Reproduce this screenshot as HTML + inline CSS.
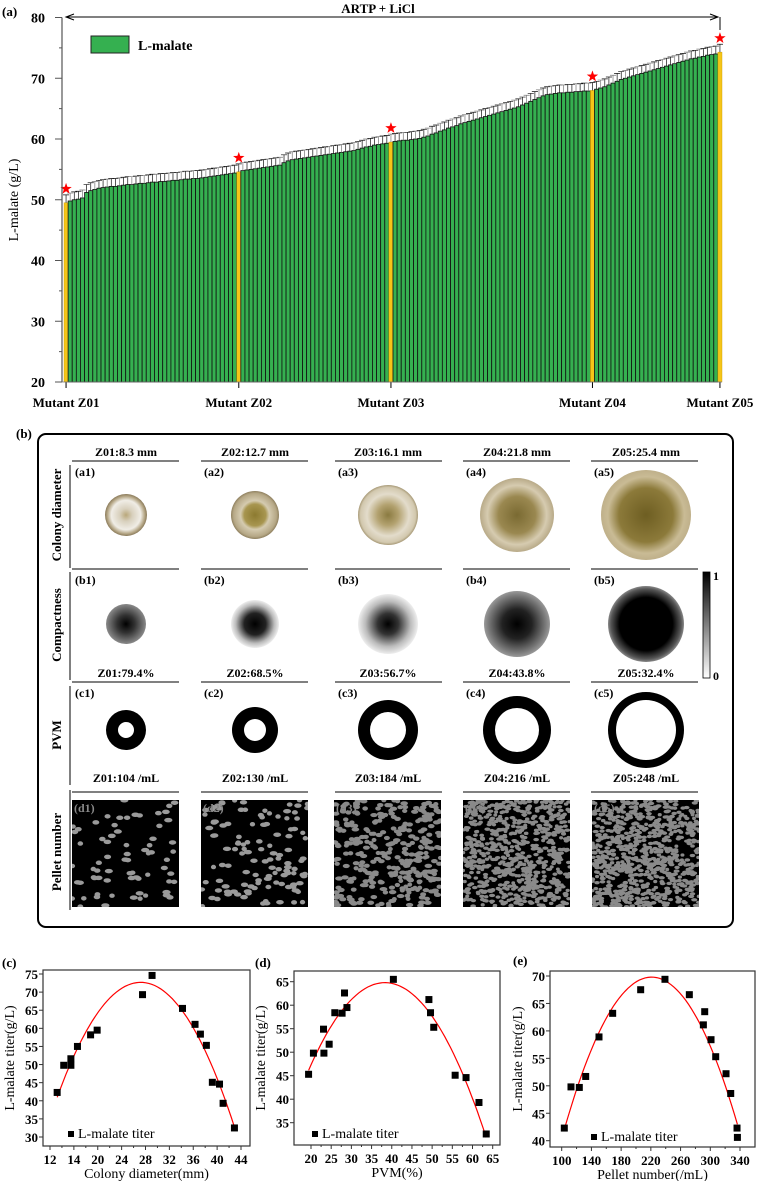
<!DOCTYPE html>
<html><head><meta charset="utf-8">
<style>
html,body{margin:0;padding:0;background:#fff;}
svg{display:block;}
text{font-family:"Liberation Serif",serif;}
.b{font-weight:bold;}
</style></head>
<body>
<svg id="fig" width="757" height="1181" viewBox="0 0 757 1181" xmlns="http://www.w3.org/2000/svg">
<defs>
  <radialGradient id="col1"><stop offset="0" stop-color="#b9a77a"/><stop offset="0.3" stop-color="#d8d0bd"/><stop offset="0.7" stop-color="#f0ede6"/><stop offset="0.88" stop-color="#b8aa8a"/><stop offset="1" stop-color="#8a7a5a"/></radialGradient>
  <radialGradient id="col2"><stop offset="0" stop-color="#8c7a30"/><stop offset="0.45" stop-color="#a89650"/><stop offset="0.6" stop-color="#d5cbb0"/><stop offset="0.9" stop-color="#b5a785"/><stop offset="1" stop-color="#8e7f5e"/></radialGradient>
  <radialGradient id="col3"><stop offset="0" stop-color="#8a7a40"/><stop offset="0.35" stop-color="#b3a270"/><stop offset="0.7" stop-color="#e3dccb"/><stop offset="0.92" stop-color="#d2c8ae"/><stop offset="1" stop-color="#a89a78"/></radialGradient>
  <radialGradient id="col4"><stop offset="0" stop-color="#7a6a32"/><stop offset="0.5" stop-color="#9a8850"/><stop offset="0.8" stop-color="#d6cbb0"/><stop offset="1" stop-color="#b8aa88"/></radialGradient>
  <radialGradient id="col5"><stop offset="0" stop-color="#6e5e22"/><stop offset="0.6" stop-color="#8c7a3a"/><stop offset="0.85" stop-color="#c9bb95"/><stop offset="1" stop-color="#bfb08a"/></radialGradient>
  <radialGradient id="cmp1"><stop offset="0" stop-color="#000"/><stop offset="0.45" stop-color="#333"/><stop offset="1" stop-color="#8a8a8a"/></radialGradient>
  <radialGradient id="cmp2"><stop offset="0" stop-color="#000"/><stop offset="0.45" stop-color="#222"/><stop offset="0.8" stop-color="#bbb"/><stop offset="1" stop-color="#eee"/></radialGradient>
  <radialGradient id="cmp3"><stop offset="0" stop-color="#000"/><stop offset="0.35" stop-color="#333"/><stop offset="0.75" stop-color="#bbb"/><stop offset="1" stop-color="#eee"/></radialGradient>
  <radialGradient id="cmp4"><stop offset="0" stop-color="#000"/><stop offset="0.45" stop-color="#222"/><stop offset="0.85" stop-color="#777"/><stop offset="1" stop-color="#999"/></radialGradient>
  <radialGradient id="cmp5"><stop offset="0" stop-color="#000"/><stop offset="0.7" stop-color="#000"/><stop offset="0.92" stop-color="#555"/><stop offset="1" stop-color="#888"/></radialGradient>
  <linearGradient id="cbar" x1="0" y1="0" x2="0" y2="1"><stop offset="0" stop-color="#000"/><stop offset="1" stop-color="#fff"/></linearGradient>
  <symbol id="star" viewBox="-1 -1 2 2"><polygon points="0,-1 0.235,-0.324 0.951,-0.309 0.38,0.124 0.588,0.809 0,0.4 -0.588,0.809 -0.38,0.124 -0.951,-0.309 -0.235,-0.324" fill="#ff0000"/></symbol>
</defs>

<!-- Panel (a) -->
<g id="panelA">
  <text x="2" y="16" class="b" font-size="13">(a)</text>
  <text x="378" y="13" class="b" font-size="13" text-anchor="middle">ARTP + LiCl</text>
  <line x1="66" y1="17" x2="718" y2="17" stroke="#000" stroke-width="1"/>
  <polyline points="74,14 66,17 74,20" fill="none" stroke="#000" stroke-width="1"/>
  <polyline points="710,14 718,17 710,20" fill="none" stroke="#000" stroke-width="1"/>
  <line x1="720" y1="17" x2="720" y2="30" stroke="#000" stroke-width="1"/>
  <g id="aBars"></g>
  <g id="aAxis"></g>
  <text transform="translate(18,200) rotate(-90)" font-size="14" text-anchor="middle">L-malate (g/L)</text>
  <g>
    <rect x="91" y="36" width="38" height="17" fill="#35b050" stroke="#222" stroke-width="1"/>
    <text x="138" y="50" class="b" font-size="14">L-malate</text>
  </g>
</g>

<!-- Panel (b) -->
<g id="panelB">
  <text x="16" y="438" class="b" font-size="13">(b)</text>
  <rect x="38" y="434" width="695" height="493" rx="8" fill="none" stroke="#000" stroke-width="2"/>
  <g id="bGrid"></g>
</g>

<!-- Panels c,d,e -->
<g id="scatter"></g>
</svg>

<script>
// ---------- Panel (a) data ----------
const barValues = [
49.5,49.8,50,50.1,50.3,51.2,51.5,51.7,51.9,52,52.1,52.2,52.2,52.3,52.4,52.5,52.5,52.6,52.7,52.7,52.8,52.9,52.9,53,53,53.1,53.2,53.2,53.3,53.4,53.4,53.5,53.5,53.6,53.7,53.8,53.9,54,54.1,54.2,54.3,54.4,
54.6,
54.8,54.9,55,55.1,55.2,55.3,55.4,55.5,55.6,55.7,56.1,56.4,56.6,56.7,56.8,56.9,57,57.1,57.2,57.3,57.4,57.5,57.6,57.7,57.8,57.9,58,58.1,58.3,58.5,58.7,58.8,59,59.1,59.2,59.3,
59.5,
59.6,59.7,59.8,59.8,59.9,60,60.1,60.3,60.5,60.8,61,61.3,61.5,61.8,62,62.2,62.5,62.7,62.9,63.1,63.3,63.5,63.7,63.9,64.1,64.3,64.5,64.7,64.9,65.1,65.3,65.6,65.9,66.2,66.5,66.8,67.1,67.3,67.4,67.5,67.6,67.6,67.7,67.7,67.8,67.8,67.9,67.9,
68,
68.2,68.4,68.6,68.9,69.2,69.5,69.8,70,70.2,70.4,70.6,70.8,71,71.2,71.4,71.6,71.8,72,72.2,72.4,72.6,72.8,73,73.2,73.3,73.5,73.6,73.8,73.9,74,
74.3];
const barErrors = barValues.map(()=>1.3);
const highlightIndex = [0,42,79,128,159];
const highlightLabels = ["Mutant Z01","Mutant Z02","Mutant Z03","Mutant Z04","Mutant Z05"];
const aYTicks = [20,30,40,50,60,70,80];

// ---------- Panel (b) data ----------
const colHeaders = ["Z01:8.3 mm","Z02:12.7 mm","Z03:16.1 mm","Z04:21.8 mm","Z05:25.4 mm"];
const pvmHeaders = ["Z01:79.4%","Z02:68.5%","Z03:56.7%","Z04:43.8%","Z05:32.4%"];
const pelletHeaders = ["Z01:104 /mL","Z02:130 /mL","Z03:184 /mL","Z04:216 /mL","Z05:248 /mL"];
const colonyR = [21,24,30,37,45];
const compactR = [20,24,30,33,38];
const ringOuter = [20,23,30,34,38];
const ringInner = [8,11,18,22,30];
const pelletCount = [70,120,320,700,800];

// ---------- Panels (c)(d)(e) data ----------
const cX = [13.2,14.3,15.5,15.5,16.6,18.8,19.9,27.5,29.1,34.2,36.3,37.2,38.2,39.2,40.4,41,42.9];
const cY = [42.3,49.8,51.6,49.8,55,58.2,59.5,69.3,74.6,65.5,61.1,58.4,55.3,45.1,44.6,39.3,32.5];
const cFit = [27.2,72.7,0.162];
const cXTicks = [12,16,20,24,28,32,36,40,44];
const cXTickLabels = ["12","14","20","24","28","32","36","40","44"];
const cYTicks = [30,35,40,45,50,55,60,65,70,75];

const dX = [19.4,20.6,23.1,23.2,24.5,25.9,27.7,28.3,28.9,40.4,49.2,49.6,50.4,55.7,58.4,61.6,63.4];
const dY = [45.3,49.8,54.9,49.8,51.7,58.4,58.3,62.6,59.5,65.5,61.2,58.4,55.3,45.1,44.6,39.3,32.6];
const dFit = [38.3,64.8,0.0523];
const dXTicks = [20,25,30,35,40,45,50,55,60,65];
const dYTicks = [35,40,45,50,55,60,65];

const eX = [103.5,112.5,123.7,132.3,150.2,168.6,206.3,239,271.8,290.7,292.5,301,307.3,321.2,327.5,336,336.5];
const eY = [42.3,49.8,49.7,51.7,58.9,63.2,67.5,69.4,66.6,61.1,63.5,58.4,55.3,52.2,48.6,42.3,40.6];
const eFit = [221,69.8,0.00201];
const eXTicks = [100,140,180,220,260,300,340];
const eYTicks = [40,45,50,55,60,65,70];

const NS = "http://www.w3.org/2000/svg";
function mk(tag, attrs, parent){const e=document.createElementNS(NS,tag);for(const k in attrs)e.setAttribute(k,attrs[k]);if(parent)parent.appendChild(e);return e;}
function txt(parent,x,y,s,size,extra){const t=mk('text',Object.assign({x:x,y:y,'font-size':size},extra||{}),parent);t.textContent=s;return t;}

// ---------- draw (a) ----------
(function(){
  const x0=64, x1=722, yTop=17.5, yBot=382, vMin=20, vMax=80;
  const ys=v=>yBot-(v-vMin)/(vMax-vMin)*(yBot-yTop);
  const n=barValues.length, bw=(x1-x0)/n;
  const xs=i=>x0+i*bw;
  const g=document.getElementById('aBars');
  barValues.forEach((v,i)=>{
    const hl=highlightIndex.includes(i);
    const r=mk('rect',{x:xs(i),y:ys(v),width:bw,height:yBot-ys(v),fill:hl?'#f5c518':'#35b050',stroke:hl?'#c89a00':'#111','stroke-width':hl?0.4:0.8},g);
    
    
    const e=barErrors[i], cx=xs(i)+bw/2;
    const eb=mk('path',{d:`M${cx},${ys(v)} V${ys(v+e)} M${xs(i)-1},${ys(v+e)} H${xs(i)+bw+1}`,stroke:i%3==1?'#777':'#111','stroke-width':0.7,fill:'none'},g);
    
    
  });
  highlightIndex.forEach((idx,k)=>{
    const cx=xs(idx)+bw/2, v=barValues[idx]+2.3;
    const s=mk('use',{href:'#star',x:cx-6,y:ys(v)-6,width:12,height:12},g);
    
    
    mk('line',{x1:cx,y1:yBot,x2:cx,y2:yBot+6,stroke:'#000','stroke-width':1},g);
    const t=txt(g,cx,407,highlightLabels[k],13,{class:'b','text-anchor':'middle'});
    
    
  });
  const ax=document.getElementById('aAxis');
  mk('line',{x1:62,y1:yTop,x2:62,y2:yBot,stroke:'#555','stroke-width':1.2},ax);
  mk('line',{x1:62,y1:yBot,x2:x1,y2:yBot,stroke:'#777','stroke-width':0.8},ax);
  for(let v=25;v<80;v+=10) mk('line',{x1:59,y1:ys(v),x2:62,y2:ys(v),stroke:'#555'},ax);
  aYTicks.forEach(v=>{
    mk('line',{x1:55,y1:ys(v),x2:62,y2:ys(v),stroke:'#555','stroke-width':1},ax);
    const t=txt(ax,45,ys(v)+5,String(v),14,{class:'b','text-anchor':'end'});
    
    
  });
})();

// ---------- draw (b) ----------
(function(){
  const g=document.getElementById('bGrid');
  const cx=[126,255,388,517,646];
  const lineL=[72,201,335,463,591], lineW=107;
  const rows=[["Colony diameter",515,465,568],["Compactness",625,572,680],["PVM",735,686,785],["Pellet number",852,790,910]];
  rows.forEach(r=>{
    const t=txt(g,0,0,r[0],13,{class:'b','text-anchor':'middle',transform:`translate(61,${r[1]}) rotate(-90)`});
    
    
    mk('line',{x1:70,y1:r[2],x2:70,y2:r[3],stroke:'#000','stroke-width':1},g);
  });
  const sep=(y)=>cx.forEach((c,i)=>mk('line',{x1:lineL[i],y1:y,x2:lineL[i]+lineW,y2:y,stroke:'#000','stroke-width':1},g));
  const hdr=(arr,y,nm)=>arr.forEach((s,i)=>{const t=txt(g,cx[i],y,s,12,{class:'b','text-anchor':'middle'});});
  const sub=(p,y,col)=>cx.forEach((c,i)=>{const t=txt(g,lineL[i]+3,y,`(${p}${i+1})`,12,{class:'b',fill:col||'#000'});});
  hdr(colHeaders,456,'colony-diameter-header'); sep(461); sub('a',476);
  cx.forEach((c,i)=>{const e=mk('circle',{cx:c,cy:515,r:colonyR[i],fill:`url(#col${i+1})`},g);});
  sep(569); sub('b',584);
  cx.forEach((c,i)=>{const e=mk('circle',{cx:c,cy:624,r:compactR[i],fill:`url(#cmp${i+1})`},g);});
  mk('rect',{x:703,y:572,width:7,height:106,fill:'url(#cbar)',stroke:'#000','stroke-width':0.8},g);
  txt(g,713,580,'1',12,{class:'b'}); txt(g,713,680,'0',12,{class:'b'});
  hdr(pvmHeaders,677,'pvm-header'); sep(682); sub('c',697);
  cx.forEach((c,i)=>{const ro=ringOuter[i],ri=ringInner[i];
    const e=mk('path',{d:`M${c-ro},730 a${ro},${ro} 0 1,0 ${2*ro},0 a${ro},${ro} 0 1,0 ${-2*ro},0 Z M${c-ri},730 a${ri},${ri} 0 1,1 ${2*ri},0 a${ri},${ri} 0 1,1 ${-2*ri},0 Z`,fill:'#000','fill-rule':'evenodd'},g);
    });
  hdr(pelletHeaders,782,'pellet-header'); sep(792);
  let seed=7; const rnd=()=>{seed=(seed*16807)%2147483647;return seed/2147483647;};
  cx.forEach((c,i)=>{
    const x=c-54,y=800,w=107,h=107;
    const im=mk('g',{},g);  
    mk('rect',{x:x,y:y,width:w,height:h,fill:'#000'},im);
    const cp=mk('clipPath',{id:'cp'+i},im); mk('rect',{x:x,y:y,width:w,height:h},cp);
    const gg=mk('g',{'clip-path':`url(#cp${i})`},im);
    const n=pelletCount[i], rr=i<2?3.2:(i==2?3:2.4);
    for(let k=0;k<n;k++){mk('ellipse',{cx:x+rnd()*w,cy:y+rnd()*h,rx:rr*(0.8+rnd()*0.5),ry:rr*0.7,fill:i<2?'#9a9a9a':'#8a8a8a'},gg);}
    txt(im,x+2,y+12,`(d${i+1})`,12,{class:'b',fill:'#888'});
  });
})();

// ---------- draw (c)(d)(e) ----------
function scatterPanel(o){
  const root=document.getElementById('scatter');
  const g=mk('g',{},root);
  
  
  const xs=v=>o.px0+(v-o.x0)/(o.x1-o.x0)*(o.px1-o.px0);
  const ys=v=>o.py0+(v-o.y0)/(o.y1-o.y0)*(o.py1-o.py0);
  txt(g,o.lx,o.ly,o.label,13,{class:'b'});
  mk('rect',{x:o.bx,y:o.by,width:o.bw,height:o.bh,fill:'none',stroke:'#333','stroke-width':1.2},g);
  o.xt.forEach((v,k)=>{
    mk('line',{x1:xs(v),y1:o.by+o.bh,x2:xs(v),y2:o.by+o.bh+4,stroke:'#333'},g);
    const t=txt(g,xs(v),o.by+o.bh+18,o.xl?o.xl[k]:String(v),13,{class:'b','text-anchor':'middle'});
     
  });
  for(let k=0;k<o.xt.length-1;k++){const m=xs((o.xt[k]+o.xt[k+1])/2);mk('line',{x1:m,y1:o.by+o.bh,x2:m,y2:o.by+o.bh+2,stroke:'#333'},g);}
  o.yt.forEach(v=>{
    mk('line',{x1:o.bx-4,y1:ys(v),x2:o.bx,y2:ys(v),stroke:'#333'},g);
    const t=txt(g,o.bx-5,ys(v)+5,String(v),13,{class:'b','text-anchor':'end'});
     
  });
  const xt=txt(g,(o.bx+o.bx+o.bw)/2,o.by+o.bh+32,o.xtitle,14,{'text-anchor':'middle'});
   
  const yt=txt(g,0,0,'L-malate titer(g/L)',14,{'text-anchor':'middle',transform:`translate(${o.ytx},${o.by+o.bh/2}) rotate(-90)`});
   
  const f=o.fit; let d='';
  const a=Math.min(...o.X), b=Math.max(...o.X);
  for(let k=0;k<=60;k++){const x=a+(b-a)*k/60, y=f[1]-f[2]*(x-f[0])*(x-f[0]); d+=(k?'L':'M')+xs(x).toFixed(1)+','+ys(y).toFixed(1);}
  const fc=mk('path',{d:d,fill:'none',stroke:'#ff0000','stroke-width':1.2},g);
   
  o.X.forEach((x,k)=>{
    const p=mk('rect',{x:xs(x)-3.5,y:ys(o.Y[k])-3.5,width:7,height:7,fill:'#000'},g);
     
  });
  mk('rect',{x:o.legx,y:o.legy-7,width:6,height:6,fill:'#000'},g);
  const lt=txt(g,o.legx+10,o.legy,'L-malate titer',14,{});
   
}
scatterPanel({name:'panel-c-scatter',label:'(c)',lx:2,ly:967,bx:43,by:970,bw:207,bh:176,
  x0:12,x1:44,px0:50,px1:241,y0:75,y1:30,py0:974,py1:1137,xt:cXTicks,xl:cXTickLabels,yt:cYTicks,
  X:cX,Y:cY,fit:cFit,xtitle:'Colony diameter(mm)',ytx:14,legx:68,legy:1138});
scatterPanel({name:'panel-d-scatter',label:'(d)',lx:255,ly:967,bx:294,by:971,bw:206,bh:174,
  x0:20,x1:65,px0:311,px1:492.7,y0:65,y1:35,py0:981.7,py1:1122.7,xt:dXTicks,yt:dYTicks,
  X:dX,Y:dY,fit:dFit,xtitle:'PVM(%)',ytx:265,legx:312,legy:1138});
scatterPanel({name:'panel-e-scatter',label:'(e)',lx:513,ly:965,bx:550,by:971,bw:205,bh:176,
  x0:100,x1:340,px0:561.7,px1:740,y0:70,y1:40,py0:976,py1:1140.7,xt:eXTicks,yt:eYTicks,
  X:eX,Y:eY,fit:eFit,xtitle:'Pellet number(/mL)',ytx:522,legx:591,legy:1141});
</script>
</body></html>
